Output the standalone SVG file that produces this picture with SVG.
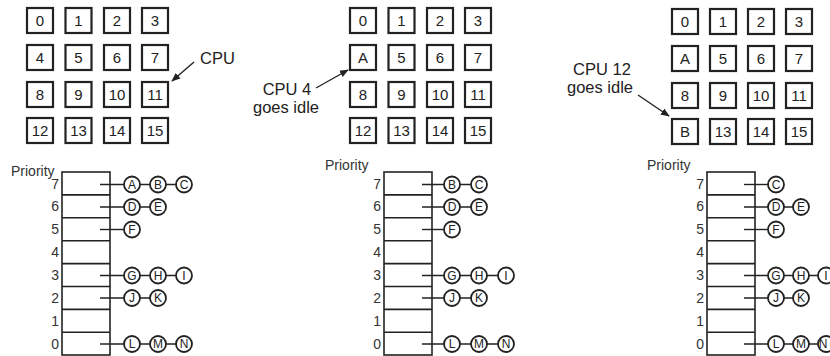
<svg xmlns="http://www.w3.org/2000/svg" width="830" height="356" viewBox="0 0 830 356">
<defs>
<style>
.box{fill:#fff;stroke:#222;stroke-width:2.2}
.bt{font-family:"Liberation Sans",Arial,sans-serif;font-size:15px;fill:#222;text-anchor:middle}
.lbl{font-family:"Liberation Sans",Arial,sans-serif;font-size:16.5px;fill:#222}
.pr{font-family:"Liberation Sans",Arial,sans-serif;font-size:14px;fill:#333}
.num{font-family:"Liberation Sans",Arial,sans-serif;font-size:14px;fill:#333;text-anchor:end}
.tab{fill:#fff;stroke:#222;stroke-width:1.6}
.div{stroke:#222;stroke-width:1.6}
.ln{stroke:#222;stroke-width:1.4;fill:none}
.cir{fill:#fff;stroke:#222;stroke-width:1.8}
.ct{font-family:"Liberation Sans",Arial,sans-serif;font-size:12px;fill:#222;text-anchor:middle}
</style>
<marker id="ah" viewBox="0 0 10 10" refX="9" refY="5" markerWidth="9" markerHeight="9" markerUnits="userSpaceOnUse" orient="auto">
<path d="M0,1 L10,5 L0,9 Z" fill="#222"/>
</marker>
<g id="tbl">
<rect class="tab" x="0" y="172" width="48" height="183"/>
<path class="div" d="M0,194.9H48M0,217.8H48M0,240.7H48M0,263.6H48M0,286.5H48M0,309.4H48M0,332.3H48"/>
<text class="num" x="-3" y="188.5">7</text>
<text class="num" x="-3" y="211.4">6</text>
<text class="num" x="-3" y="234.3">5</text>
<text class="num" x="-3" y="257.2">4</text>
<text class="num" x="-3" y="280.1">3</text>
<text class="num" x="-3" y="303">2</text>
<text class="num" x="-3" y="325.9">1</text>
<text class="num" x="-3" y="348.8">0</text>
</g>
</defs>
<rect width="830" height="356" fill="#fff"/>

<!-- LEFT PANEL -->
<g id="left-grid">
<g id="L0"><rect class="box" x="27" y="8" width="26" height="25"/><text class="bt" x="40" y="26">0</text></g>
<g id="L1"><rect class="box" x="65.5" y="8" width="26" height="25"/><text class="bt" x="78.5" y="26">1</text></g>
<g id="L2"><rect class="box" x="104" y="8" width="26" height="25"/><text class="bt" x="117" y="26">2</text></g>
<g id="L3"><rect class="box" x="142" y="8" width="26" height="25"/><text class="bt" x="155" y="26">3</text></g>
<g id="L4"><rect class="box" x="27" y="45" width="26" height="25"/><text class="bt" x="40" y="63">4</text></g>
<g id="L5"><rect class="box" x="65.5" y="45" width="26" height="25"/><text class="bt" x="78.5" y="63">5</text></g>
<g id="L6"><rect class="box" x="104" y="45" width="26" height="25"/><text class="bt" x="117" y="63">6</text></g>
<g id="L7"><rect class="box" x="142" y="45" width="26" height="25"/><text class="bt" x="155" y="63">7</text></g>
<g id="L8"><rect class="box" x="27" y="82" width="26" height="25"/><text class="bt" x="40" y="100">8</text></g>
<g id="L9"><rect class="box" x="65.5" y="82" width="26" height="25"/><text class="bt" x="78.5" y="100">9</text></g>
<g id="L10"><rect class="box" x="104" y="82" width="26" height="25"/><text class="bt" x="117" y="100">10</text></g>
<g id="L11"><rect class="box" x="142" y="82" width="26" height="25"/><text class="bt" x="155" y="100">11</text></g>
<g id="L12"><rect class="box" x="27" y="118" width="26" height="25"/><text class="bt" x="40" y="136">12</text></g>
<g id="L13"><rect class="box" x="65.5" y="118" width="26" height="25"/><text class="bt" x="78.5" y="136">13</text></g>
<g id="L14"><rect class="box" x="104" y="118" width="26" height="25"/><text class="bt" x="117" y="136">14</text></g>
<g id="L15"><rect class="box" x="142" y="118" width="26" height="25"/><text class="bt" x="155" y="136">15</text></g>
</g>
<g id="left-label"><text class="lbl" x="200" y="64">CPU</text></g>
<g id="left-table">
<text class="pr" x="11" y="175.5">Priority</text>
<use href="#tbl" x="62"/>
</g>
<g id="left-circles">
<g id="lA"><circle class="cir" cx="132" cy="184.5" r="8"/><text class="ct" x="132" y="188.8">A</text></g>
<g id="lB"><circle class="cir" cx="158" cy="184.5" r="8"/><text class="ct" x="158" y="188.8">B</text></g>
<g id="lC"><circle class="cir" cx="184" cy="184.5" r="8"/><text class="ct" x="184" y="188.8">C</text></g>
<g id="lD"><circle class="cir" cx="132" cy="207" r="8"/><text class="ct" x="132" y="211.3">D</text></g>
<g id="lE"><circle class="cir" cx="158" cy="207" r="8"/><text class="ct" x="158" y="211.3">E</text></g>
<g id="lF"><circle class="cir" cx="132" cy="229.5" r="8"/><text class="ct" x="132" y="233.8">F</text></g>
<g id="lG"><circle class="cir" cx="132" cy="275.5" r="8"/><text class="ct" x="132" y="279.8">G</text></g>
<g id="lH"><circle class="cir" cx="158" cy="275.5" r="8"/><text class="ct" x="158" y="279.8">H</text></g>
<g id="lI"><circle class="cir" cx="184" cy="275.5" r="8"/><text class="ct" x="184" y="279.8">I</text></g>
<g id="lJ"><circle class="cir" cx="132" cy="298" r="8"/><text class="ct" x="132" y="302.3">J</text></g>
<g id="lK"><circle class="cir" cx="158" cy="298" r="8"/><text class="ct" x="158" y="302.3">K</text></g>
<g id="lL"><circle class="cir" cx="132" cy="344" r="8"/><text class="ct" x="132" y="348.3">L</text></g>
<g id="lM"><circle class="cir" cx="158" cy="344" r="8"/><text class="ct" x="158" y="348.3">M</text></g>
<g id="lN"><circle class="cir" cx="184" cy="344" r="8"/><text class="ct" x="184" y="348.3">N</text></g>
</g>

<!-- MIDDLE PANEL -->
<g id="mid-grid">
<g id="M0"><rect class="box" x="350" y="8" width="26" height="25"/><text class="bt" x="363" y="26">0</text></g>
<g id="M1"><rect class="box" x="388.5" y="8" width="26" height="25"/><text class="bt" x="401.5" y="26">1</text></g>
<g id="M2"><rect class="box" x="427" y="8" width="26" height="25"/><text class="bt" x="440" y="26">2</text></g>
<g id="M3"><rect class="box" x="465" y="8" width="26" height="25"/><text class="bt" x="478" y="26">3</text></g>
<g id="M4"><rect class="box" x="350" y="45" width="26" height="25"/><text class="bt" x="363" y="63">A</text></g>
<g id="M5"><rect class="box" x="388.5" y="45" width="26" height="25"/><text class="bt" x="401.5" y="63">5</text></g>
<g id="M6"><rect class="box" x="427" y="45" width="26" height="25"/><text class="bt" x="440" y="63">6</text></g>
<g id="M7"><rect class="box" x="465" y="45" width="26" height="25"/><text class="bt" x="478" y="63">7</text></g>
<g id="M8"><rect class="box" x="350" y="82" width="26" height="25"/><text class="bt" x="363" y="100">8</text></g>
<g id="M9"><rect class="box" x="388.5" y="82" width="26" height="25"/><text class="bt" x="401.5" y="100">9</text></g>
<g id="M10"><rect class="box" x="427" y="82" width="26" height="25"/><text class="bt" x="440" y="100">10</text></g>
<g id="M11"><rect class="box" x="465" y="82" width="26" height="25"/><text class="bt" x="478" y="100">11</text></g>
<g id="M12"><rect class="box" x="350" y="118" width="26" height="25"/><text class="bt" x="363" y="136">12</text></g>
<g id="M13"><rect class="box" x="388.5" y="118" width="26" height="25"/><text class="bt" x="401.5" y="136">13</text></g>
<g id="M14"><rect class="box" x="427" y="118" width="26" height="25"/><text class="bt" x="440" y="136">14</text></g>
<g id="M15"><rect class="box" x="465" y="118" width="26" height="25"/><text class="bt" x="478" y="136">15</text></g>
</g>
<g id="mid-label">
<text class="lbl" x="287" y="95" text-anchor="middle">CPU 4</text>
<text class="lbl" x="286" y="113" text-anchor="middle">goes idle</text>
</g>
<g id="mid-table">
<text class="pr" x="325" y="170">Priority</text>
<use href="#tbl" x="384"/>
</g>
<g id="mid-circles">
<g id="mB"><circle class="cir" cx="452" cy="184.5" r="8"/><text class="ct" x="452" y="188.8">B</text></g>
<g id="mC"><circle class="cir" cx="479" cy="184.5" r="8"/><text class="ct" x="479" y="188.8">C</text></g>
<g id="mD"><circle class="cir" cx="452" cy="207" r="8"/><text class="ct" x="452" y="211.3">D</text></g>
<g id="mE"><circle class="cir" cx="479" cy="207" r="8"/><text class="ct" x="479" y="211.3">E</text></g>
<g id="mF"><circle class="cir" cx="452" cy="229.5" r="8"/><text class="ct" x="452" y="233.8">F</text></g>
<g id="mG"><circle class="cir" cx="452" cy="275.5" r="8"/><text class="ct" x="452" y="279.8">G</text></g>
<g id="mH"><circle class="cir" cx="479" cy="275.5" r="8"/><text class="ct" x="479" y="279.8">H</text></g>
<g id="mI"><circle class="cir" cx="506" cy="275.5" r="8"/><text class="ct" x="506" y="279.8">I</text></g>
<g id="mJ"><circle class="cir" cx="452" cy="298" r="8"/><text class="ct" x="452" y="302.3">J</text></g>
<g id="mK"><circle class="cir" cx="479" cy="298" r="8"/><text class="ct" x="479" y="302.3">K</text></g>
<g id="mL"><circle class="cir" cx="452" cy="344" r="8"/><text class="ct" x="452" y="348.3">L</text></g>
<g id="mM"><circle class="cir" cx="479" cy="344" r="8"/><text class="ct" x="479" y="348.3">M</text></g>
<g id="mN"><circle class="cir" cx="506" cy="344" r="8"/><text class="ct" x="506" y="348.3">N</text></g>
</g>

<!-- RIGHT PANEL -->
<g id="right-grid">
<g id="R0"><rect class="box" x="672" y="9" width="26" height="25"/><text class="bt" x="685" y="27">0</text></g>
<g id="R1"><rect class="box" x="710" y="9" width="26" height="25"/><text class="bt" x="723" y="27">1</text></g>
<g id="R2"><rect class="box" x="748" y="9" width="26" height="25"/><text class="bt" x="761" y="27">2</text></g>
<g id="R3"><rect class="box" x="786" y="9" width="26" height="25"/><text class="bt" x="799" y="27">3</text></g>
<g id="R4"><rect class="box" x="672" y="46" width="26" height="25"/><text class="bt" x="685" y="64">A</text></g>
<g id="R5"><rect class="box" x="710" y="46" width="26" height="25"/><text class="bt" x="723" y="64">5</text></g>
<g id="R6"><rect class="box" x="748" y="46" width="26" height="25"/><text class="bt" x="761" y="64">6</text></g>
<g id="R7"><rect class="box" x="786" y="46" width="26" height="25"/><text class="bt" x="799" y="64">7</text></g>
<g id="R8"><rect class="box" x="672" y="83" width="26" height="25"/><text class="bt" x="685" y="101">8</text></g>
<g id="R9"><rect class="box" x="710" y="83" width="26" height="25"/><text class="bt" x="723" y="101">9</text></g>
<g id="R10"><rect class="box" x="748" y="83" width="26" height="25"/><text class="bt" x="761" y="101">10</text></g>
<g id="R11"><rect class="box" x="786" y="83" width="26" height="25"/><text class="bt" x="799" y="101">11</text></g>
<g id="R12"><rect class="box" x="672" y="119" width="26" height="25"/><text class="bt" x="685" y="137">B</text></g>
<g id="R13"><rect class="box" x="710" y="119" width="26" height="25"/><text class="bt" x="723" y="137">13</text></g>
<g id="R14"><rect class="box" x="748" y="119" width="26" height="25"/><text class="bt" x="761" y="137">14</text></g>
<g id="R15"><rect class="box" x="786" y="119" width="26" height="25"/><text class="bt" x="799" y="137">15</text></g>
</g>
<g id="right-label">
<text class="lbl" x="602" y="75" text-anchor="middle">CPU 12</text>
<text class="lbl" x="600" y="93" text-anchor="middle">goes idle</text>
</g>
<g id="right-table">
<text class="pr" x="647" y="170">Priority</text>
<use href="#tbl" x="707"/>
</g>
<g id="right-circles">
<g id="rC"><circle class="cir" cx="776" cy="184.5" r="8"/><text class="ct" x="776" y="188.8">C</text></g>
<g id="rD"><circle class="cir" cx="776" cy="207" r="8"/><text class="ct" x="776" y="211.3">D</text></g>
<g id="rE"><circle class="cir" cx="801" cy="207" r="8"/><text class="ct" x="801" y="211.3">E</text></g>
<g id="rF"><circle class="cir" cx="776" cy="229.5" r="8"/><text class="ct" x="776" y="233.8">F</text></g>
<g id="rG"><circle class="cir" cx="776" cy="275.5" r="8"/><text class="ct" x="776" y="279.8">G</text></g>
<g id="rH"><circle class="cir" cx="801" cy="275.5" r="8"/><text class="ct" x="801" y="279.8">H</text></g>
<g id="rI"><circle class="cir" cx="826" cy="275.5" r="8"/><text class="ct" x="826" y="279.8">I</text></g>
<g id="rJ"><circle class="cir" cx="776" cy="298" r="8"/><text class="ct" x="776" y="302.3">J</text></g>
<g id="rK"><circle class="cir" cx="801" cy="298" r="8"/><text class="ct" x="801" y="302.3">K</text></g>
<g id="rL"><circle class="cir" cx="776" cy="344" r="8"/><text class="ct" x="776" y="348.3">L</text></g>
<g id="rM"><circle class="cir" cx="801" cy="344" r="8"/><text class="ct" x="801" y="348.3">M</text></g>
<g id="rN"><circle class="cir" cx="826" cy="344" r="8"/><text class="ct" x="823" y="348.3" font-size="11">N</text></g>
</g>

<!-- CONNECTORS -->
<g id="connectors">
<path class="ln" d="M194,62 L172,81" marker-end="url(#ah)"/>
<path class="ln" d="M316,88 L348,70" marker-end="url(#ah)"/>
<path class="ln" d="M638,95 L669,116" marker-end="url(#ah)"/>
<!-- left -->
<path class="ln" d="M100,184.5H124M140,184.5H150M166,184.5H176"/>
<path class="ln" d="M100,207H124M140,207H150"/>
<path class="ln" d="M100,229.5H124"/>
<path class="ln" d="M100,275.5H124M140,275.5H150M166,275.5H176"/>
<path class="ln" d="M100,298H124M140,298H150"/>
<path class="ln" d="M100,344H124M140,344H150M166,344H176"/>
<!-- middle -->
<path class="ln" d="M422,184.5H444M460,184.5H471"/>
<path class="ln" d="M422,207H444M460,207H471"/>
<path class="ln" d="M422,229.5H444"/>
<path class="ln" d="M422,275.5H444M460,275.5H471M487,275.5H498"/>
<path class="ln" d="M422,298H444M460,298H471"/>
<path class="ln" d="M422,344H444M460,344H471M487,344H498"/>
<!-- right -->
<path class="ln" d="M744,184.5H768"/>
<path class="ln" d="M744,207H768M784,207H793"/>
<path class="ln" d="M744,229.5H768"/>
<path class="ln" d="M744,275.5H768M784,275.5H793M809,275.5H818"/>
<path class="ln" d="M744,298H768M784,298H793"/>
<path class="ln" d="M744,344H768M784,344H793M809,344H818"/>
</g>
</svg>
